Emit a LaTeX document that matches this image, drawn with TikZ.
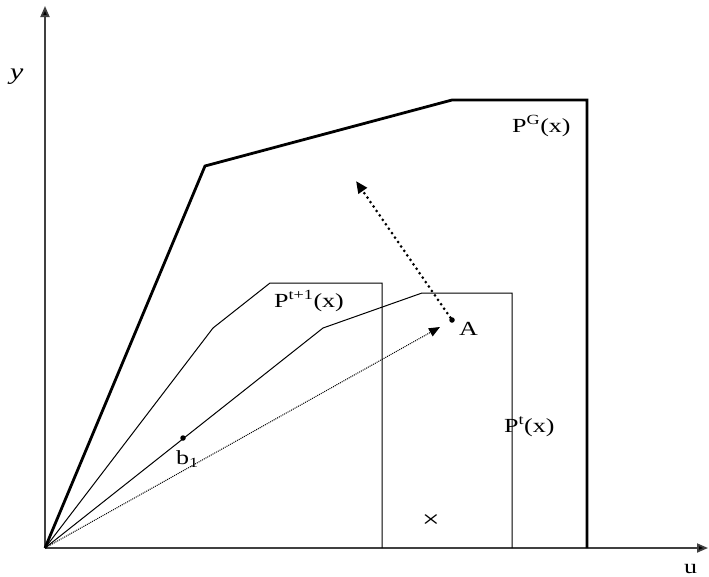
\documentclass[tikz,border=0pt]{standalone}
\usepackage{fontspec}
\setmainfont{Liberation Serif}[FakeStretch=1.3]
\usetikzlibrary{arrows.meta}
\tikzset{
	lbl/.style={font=\fontsize{20}{22}\selectfont, inner sep=0pt, anchor=base west},
	axis/.style={line width=1.8pt, black!75, -{Triangle[length=11pt,width=9pt,fill=black]}},
	pt/.style={circle, fill=black, inner sep=0pt, minimum size=5.5pt}
}
\begin{document}
\begin{tikzpicture}[x=1pt,y=-1pt]
	\useasboundingbox (0,0) rectangle (709,576);
	\coordinate (O) at (45,548);
	\coordinate (Ytop) at (45,6);
	\coordinate (Xend) at (708,548);
	\draw[axis] (O)--(Ytop);
	\draw[axis] (O)--(Xend);
	\node[lbl, font=\fontsize{23}{24}\selectfont\itshape] (ylbl) at (10,79) {y};
	\node[lbl] (ulbl) at (684,573) {u};

	% the three frontiers
	\draw[line width=2.8pt] (O)--(205,166)--(452,100)--(587,100)--(587,548);
	\draw[line width=1pt] (O)--(213,328)--(270,283)--(382,283)--(382,548);
	\draw[line width=1pt] (O)--(323,328)--(422,293)--(512,293)--(512,548);
	\node[lbl] (PG) at (512,132) {P\textsuperscript{G}(x)};
	\node[lbl] (Pt1) at (274,307) {P\textsuperscript{t+1}(x)};
	\node[lbl] (Pt) at (504,432) {P\textsuperscript{t}(x)};

	% points and directions
	\node[pt] (b) at (183,438) {};
	\node[lbl] (blbl) at (176,464) {b\textsubscript{1}};
	\node[pt] (A) at (452,320) {};
	\node[lbl] (Albl) at (459,335) {A};
	\coordinate (T) at (356,181);
	\draw[line width=1pt, densely dotted, -{Triangle[length=11pt,width=9pt]}] (O)--(440,327);
	\draw[line width=3pt, line cap=round, dash pattern=on 0pt off 5.4pt, -{Triangle[length=12pt,width=10pt]}] (A)--(T);
	\node[font=\fontsize{24}{24}\selectfont, inner sep=0pt] (cross) at (431,521) {×};
\end{tikzpicture}
\end{document}
